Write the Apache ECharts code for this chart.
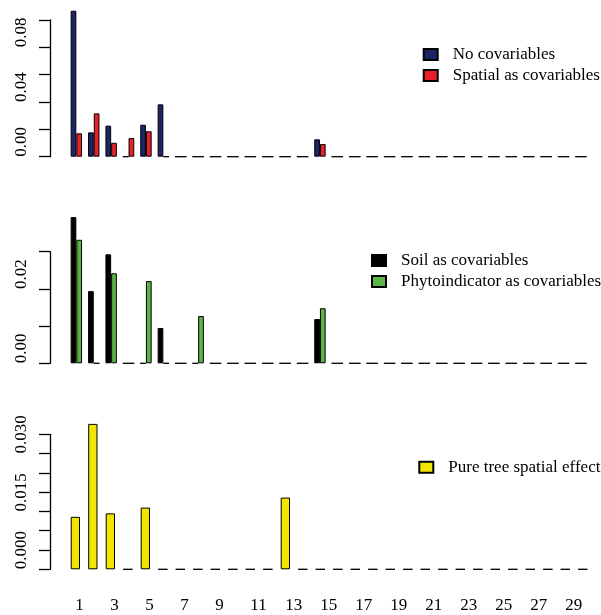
<!DOCTYPE html>
<html><head><meta charset="utf-8">
<script src="https://cdn.jsdelivr.net/npm/echarts@6/dist/echarts.min.js"></script>
<style>html,body{margin:0;padding:0;background:#fff}#c{width:601px;height:615px}</style>
</head><body><div id="c"></div>
<script>
const categories = ['1','2','3','4','5','6','7','8','9','10','11','12','13','14','15','16','17','18','19','20','21','22','23','24','25','26','27','28','29','30'];
const noCov      = [0.1068,0.0178,0.0227,0,0.0234,0.0383,0,0,0,0,0,0,0,0,0.0127,0,0,0,0,0,0,0,0,0,0,0,0,0,0,0];
const spatialCov = [0.0171,0.0317,0.0102,0.0137,0.0186,0,0,0,0,0,0,0,0,0,0.0093,0,0,0,0,0,0,0,0,0,0,0,0,0,0,0];
const soilCov    = [0.0393,0.0194,0.0293,0,0,0.0095,0,0,0,0,0,0,0,0,0.0119,0,0,0,0,0,0,0,0,0,0,0,0,0,0,0];
const phytoCov   = [0.0332,0,0.0242,0,0.0221,0,0,0.0127,0,0,0,0,0,0,0.0148,0,0,0,0,0,0,0,0,0,0,0,0,0,0,0];
const pureTree   = [0.0136,0.0377,0.0145,0,0.0160,0,0,0,0,0,0,0,0.0186,0,0,0,0,0,0,0,0,0,0,0,0,0,0,0,0,0];
const yLabels1 = ['0.00','0.04','0.08'];
const yLabels2 = ['0.00','0.02'];
const yLabels3 = ['0.000','0.015','0.030'];
const names = ['No covariables','Spatial as covariables','Soil as covariables','Phytoindicator as covariables','Pure tree spatial effect'];

const FONT = 'Liberation Serif';
const txt = {fontFamily: FONT, fontSize: 17, color: '#000'};
function pick(labels){
  return function(v){
    const f = labels.find(l => Math.abs(parseFloat(l) - v) < 1e-9);
    return f === undefined ? '' : f;
  };
}
function yAx(gi, max, interval, offset, labels){
  return {
    type: 'value', gridIndex: gi, min: 0, max: max, interval: interval, offset: offset,
    splitLine: {show: false},
    axisLine: {show: true, lineStyle: {color: '#000', width: 1.3}},
    axisTick: {show: true, length: 11, lineStyle: {color: '#000', width: 1.3}},
    axisLabel: Object.assign({rotate: 90, align: 'left', margin: 20, formatter: pick(labels), showMinLabel: true, showMaxLabel: true}, txt)
  };
}
function xAx(gi, showLabels){
  return {
    type: 'category', gridIndex: gi, data: categories,
    axisLine: {show: false}, axisTick: {show: false},
    axisLabel: Object.assign({show: showLabels, interval: 1, align: 'left', margin: 28}, txt)
  };
}
function bar(name, data, gi, color, width){
  return {
    type: 'bar', name: name, data: data, xAxisIndex: gi, yAxisIndex: gi,
    barWidth: width, barGap: '0%', clip: false, animation: false,
    itemStyle: {color: color, borderColor: '#000', borderWidth: 1},
    emphasis: {disabled: true}
  };
}
function leg(data, left, top){
  return {
    data: data, orient: 'vertical', left: left, top: top, icon: 'rect',
    itemWidth: 14, itemHeight: 11, itemGap: 4, padding: 0,
    textStyle: Object.assign({padding: [0,0,0,10]}, txt)
  };
}
const chart = echarts.init(document.getElementById('c'), null, {renderer: 'canvas'});
chart.setOption({
  animation: false,
  backgroundColor: '#fff',
  grid: [
    {left: 67.65, top: 20, width: 522, height: 136.7},
    {left: 67.65, top: 251.7, width: 522, height: 111.6},
    {left: 66.6, top: 434.3, width: 525, height: 135}
  ],
  xAxis: [xAx(0, false), xAx(1, false), xAx(2, true)],
  yAxis: [
    yAx(0, 0.10, 0.02, 67.65 - 50, yLabels1),
    yAx(1, 0.03, 0.01, 67.65 - 50, yLabels2),
    yAx(2, 0.035, 0.005, 66.6 - 50, yLabels3)
  ],
  legend: [
    leg([names[0], names[1]], 422.7, 46),
    leg([names[2], names[3]], 371, 252),
    leg([names[4]], 418.3, 458.8)
  ],
  series: [
    bar(names[0], noCov, 0, '#1C2566', 5.7),
    bar(names[1], spatialCov, 0, '#E8202A', 5.7),
    bar(names[2], soilCov, 1, '#000000', 5.7),
    bar(names[3], phytoCov, 1, '#5AB545', 5.7),
    bar(names[4], pureTree, 2, '#F2E600', 9.3)
  ]
});
</script>
</body></html>
